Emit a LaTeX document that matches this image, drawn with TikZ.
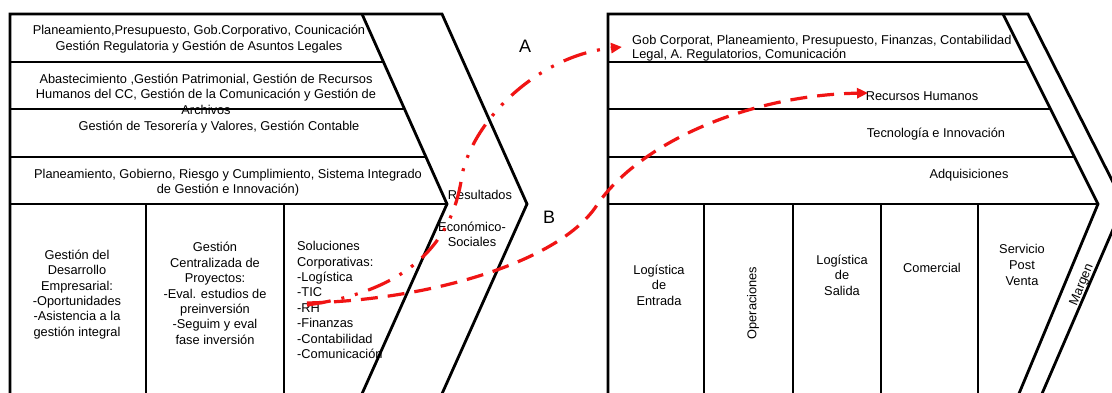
\documentclass[tikz,border=0pt]{standalone}
\usepackage{fontspec}
\setmainfont{Liberation Sans}
\usetikzlibrary{arrows.meta}
\definecolor{arrred}{RGB}{240,20,20}
\begin{document}
\begin{tikzpicture}[x=1pt,y=-1pt,
  heavy/.style={line width=2.8pt, line join=miter},
  mid/.style={line width=2pt},
  light/.style={line width=1.3pt},
  txt/.style={font=\fontsize{12.8}{15.4}\selectfont, align=center, inner sep=0pt},
  rtxt/.style={font=\fontsize{12.8}{15.6}\selectfont, align=center, inner sep=0pt},
  big/.style={font=\fontsize{18}{20}\selectfont, inner sep=0pt},
  linkA/.style={draw=arrred, line width=3.2pt, dash pattern=on 24pt off 11pt on 3pt off 11pt on 3pt off 11pt, -{Triangle[length=11pt,width=10pt]}},
  linkB/.style={draw=arrred, line width=3.2pt, dash pattern=on 17pt off 10pt, -{Triangle[length=11pt,width=10pt]}}]
\useasboundingbox (0,0) rectangle (1112,392);
\fill[white] (0,0) rectangle (1112,392);
% ---------- left block ----------
\draw[heavy] (10,396) -- (10,14) -- (442,14) -- (527,204) -- (441,396);
\draw[heavy] (362,14) -- (447,204) -- (361,396);
\draw[heavy] (10,62) -- (383.5,62);
\draw[heavy] (10,109) -- (404.5,109);
\draw[heavy] (10,157) -- (426,157);
\draw[heavy] (10,204) -- (447,204);
\draw[heavy] (146,204) -- (146,396);
\draw[heavy] (284,204) -- (284,396);
\node[txt] (l1) at (199,39) {Planeamiento,Presupuesto, Gob.Corporativo, Counicación\\Gestión Regulatoria y Gestión de Asuntos Legales};
\node[txt] (l2) at (206,94) {Abastecimiento ,Gestión Patrimonial, Gestión de Recursos\\Humanos del CC, Gestión de la Comunicación y Gestión de\\Archivos};
\node[txt] (l3) at (219,127) {Gestión de Tesorería y Valores, Gestión Contable};
\node[txt] (l4) at (228,182.5) {Planeamiento, Gobierno, Riesgo y Cumplimiento, Sistema Integrado\\de Gestión e Innovación)};
\node[txt] (b1) at (77,294.5) {Gestión del\\Desarrollo\\Empresarial:\\-Oportunidades\\-Asistencia a la\\gestión integral};
\node[txt] (b2) at (215,293.5) {Gestión\\Centralizada de\\Proyectos:\\-Eval. estudios de\\preinversión\\-Seguim y eval\\fase inversión};
\node[txt, align=left, anchor=west] (b3) at (297,300) {Soluciones\\Corporativas:\\-Logística\\-TIC\\-RH\\-Finanzas\\-Contabilidad\\-Comunicación};
\node[txt] (res) at (480,195) {Resultados};
\node[txt] (eco) at (472,234.5) {Económico-\\Sociales};
\node[big] (la) at (525,46) {A};
\node[big] (lb) at (549,217) {B};
% ---------- right block ----------
\draw[heavy] (608,396) -- (608,14) -- (1028,14) -- (1124,204) -- (1041,396);
\draw[heavy] (1003,14) -- (1098,204) -- (1018,396);
\draw[light] (608,62) -- (1027,62);
\draw[light] (608,109) -- (1050.5,109);
\draw[light] (608,157) -- (1074.5,157);
\draw[mid] (608,204) -- (1098,204);
\foreach \xx in {704,793,881,978} \draw[light] (\xx,204) -- (\xx,396);
\node[txt, font=\fontsize{12.8}{14}\selectfont, align=left, anchor=west] (r1) at (632,48) {Gob Corporat, Planeamiento, Presupuesto, Finanzas, Contabilidad\\Legal, A. Regulatorios, Comunicación};
\node[rtxt] (r2) at (922,96) {Recursos Humanos};
\node[rtxt] (r3) at (936,134) {Tecnología e Innovación};
\node[rtxt] (r4) at (969,175) {Adquisiciones};
\node[rtxt] (c1) at (659,285) {Logística\\de\\Entrada};
\node[rtxt, rotate=90] (c2) at (753,303) {Operaciones};
\node[rtxt] (c3) at (842,275) {Logística\\de\\Salida};
\node[rtxt] (c4) at (932,268) {Comercial};
\node[rtxt] (c5) at (1022,265) {Servicio\\Post\\Venta};
\node[rtxt, rotate=67.5] (mg) at (1082,285) {Margen};
% ---------- connectors ----------
\coordinate (aStart) at (307,305);
\coordinate (aMid) at (462,175);
\coordinate (aEnd) at (622,47);
\coordinate (bStart) at (307,303);
\coordinate (bMid) at (597,205);
\coordinate (bEnd) at (868,93);
\draw[linkA] (aStart) .. controls (400,292) and (452,250) .. (aMid) .. controls (474,118) and (540,55) .. (aEnd);
\draw[linkB] (bStart) .. controls (430,300) and (560,262) .. (bMid) .. controls (640,142) and (750,95) .. (bEnd);
\end{tikzpicture}
\end{document}
